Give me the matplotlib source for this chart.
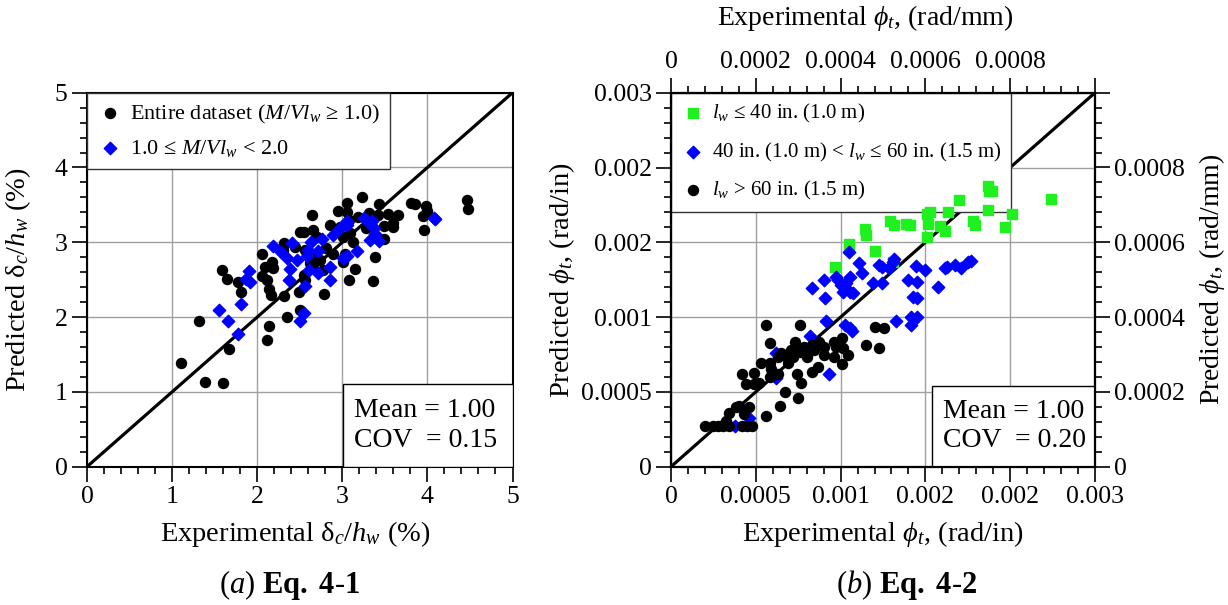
import numpy as np
import matplotlib
matplotlib.use("Agg")
import matplotlib.pyplot as plt
from matplotlib.patches import Rectangle

plt.rcParams['font.family'] = ['Liberation Serif', 'DejaVu Serif']
plt.rcParams['mathtext.fontset'] = 'custom'
plt.rcParams['mathtext.rm'] = 'Liberation Serif'
plt.rcParams['mathtext.it'] = 'Liberation Serif:italic'
plt.rcParams['mathtext.bf'] = 'Liberation Serif:bold'

# (a) drift ratio, %
drift_all_exp = [1.10, 1.39, 1.60, 1.32, 1.67, 1.59, 1.64, 1.77, 1.81, 2.06, 2.09, 2.17, 2.19, 2.06,
                 2.11, 2.14, 2.16, 2.14, 2.11, 2.31, 2.30, 2.32, 2.35, 2.49, 2.50, 2.50, 2.55, 2.56,
                 2.64, 2.66, 2.68, 2.70, 2.55, 2.56, 2.77, 2.78, 2.81, 2.86, 2.89, 2.95, 2.97, 3.01,
                 3.05, 3.05, 3.08, 3.09, 3.12, 3.15, 3.08, 3.19, 3.23, 3.28, 3.31, 3.38, 3.36, 3.42,
                 3.43, 3.49, 3.49, 3.54, 3.60, 3.66, 3.60, 3.81, 3.86, 3.95, 3.98, 3.99, 3.96, 4.47,
                 4.48, 2.62, 2.74, 2.30, 2.44, 3.01, 3.03, 2.62, 2.66]
drift_all_pred = [1.39, 1.13, 1.12, 1.95, 1.57, 2.63, 2.51, 2.47, 2.33, 2.85, 2.67, 2.74, 2.65, 2.55,
                  2.50, 2.38, 2.30, 1.88, 1.69, 2.99, 2.94, 2.28, 2.00, 2.33, 2.10, 3.14, 3.14, 2.90,
                  3.36, 3.17, 2.76, 3.07, 2.56, 2.50, 2.63, 2.31, 2.92, 3.23, 2.85, 3.42, 3.21, 2.74,
                  3.52, 3.40, 3.30, 3.13, 3.01, 2.64, 2.50, 3.34, 3.61, 3.19, 3.39, 2.80, 2.48, 3.36,
                  3.51, 3.22, 3.05, 3.38, 3.26, 3.36, 3.21, 3.53, 3.51, 3.35, 3.48, 3.42, 3.16, 3.56,
                  3.45, 2.81, 2.76, 2.90, 2.94, 3.07, 2.85, 2.72, 2.65]
drift_sub_exp = [1.55, 1.66, 1.77, 1.81, 1.90, 1.87, 1.92, 2.19, 2.28, 2.35, 2.41, 2.47, 2.39, 2.37,
                 2.56, 2.55, 2.50, 2.60, 2.63, 2.59, 2.71, 2.61, 2.71, 2.76, 2.85, 2.86, 2.89, 2.97,
                 3.05, 3.06, 3.01, 3.05, 3.17, 3.26, 3.32, 3.35, 3.37, 3.39, 3.32, 3.43, 4.09, 4.08]
drift_sub_pred = [2.09, 1.95, 1.78, 2.17, 2.62, 2.51, 2.47, 2.95, 2.87, 2.79, 2.99, 2.76, 2.64, 2.50,
                  2.41, 2.05, 1.95, 2.90, 3.01, 2.82, 2.89, 2.63, 2.59, 3.04, 2.67, 2.49, 3.10, 3.19,
                  3.23, 3.28, 2.79, 2.82, 2.89, 3.33, 3.25, 3.28, 3.19, 3.11, 3.03, 3.02, 3.31, 3.33]

# (b) curvature, rad/in x 1e-3
phi_short_exp = [1.16, 1.26, 1.26, 1.37, 1.38, 1.44, 1.55, 1.58, 1.66, 1.69, 1.81, 1.83, 1.82, 1.81,
                 1.90, 1.94, 1.96, 2.04, 2.14, 2.15, 2.24, 2.25, 2.27, 2.24, 2.36, 2.41, 2.69, 1.57]
phi_short_pred = [1.60, 1.79, 1.75, 1.91, 1.86, 1.73, 1.97, 1.94, 1.95, 1.94, 2.03, 2.04, 1.95, 1.84,
                  1.93, 1.89, 2.04, 2.14, 1.97, 1.94, 2.25, 2.21, 2.21, 2.06, 1.92, 2.03, 2.15, 1.64]
phi_mid_exp = [1.26, 1.00, 1.08, 1.09, 1.17, 1.18, 1.20, 1.22, 1.24, 1.27, 1.27, 1.29, 1.33, 1.35,
               1.43, 1.47, 1.49, 1.49, 1.54, 1.58, 1.57, 1.68, 1.73, 1.74, 1.71, 1.74, 1.80, 1.89,
               1.94, 1.95, 2.01, 2.05, 2.10, 2.12, 1.10, 1.23, 1.27, 1.28, 1.59, 1.70, 1.74, 1.70,
               0.98, 0.74, 1.12, 0.74, 0.45, 0.55]
phi_mid_pred = [1.72, 1.43, 1.50, 1.35, 1.52, 1.50, 1.46, 1.40, 1.47, 1.52, 1.40, 1.39, 1.63, 1.55,
                1.47, 1.62, 1.60, 1.47, 1.59, 1.67, 1.64, 1.50, 1.61, 1.48, 1.36, 1.35, 1.58, 1.44,
                1.59, 1.60, 1.62, 1.59, 1.64, 1.65, 1.17, 1.14, 1.11, 1.09, 1.17, 1.20, 1.20, 1.14,
                1.05, 0.91, 0.74, 0.71, 0.33, 0.39]
phi_long_exp = [0.24, 0.30, 0.33, 0.37, 0.41, 0.50, 0.54, 0.57, 0.39, 0.41, 0.46, 0.48, 0.55, 0.52,
                0.67, 0.50, 0.59, 0.53, 0.59, 0.62, 0.64, 0.70, 0.71, 0.70, 0.76, 0.77, 0.81, 0.67,
                0.70, 0.78, 0.79, 0.83, 0.85, 0.88, 0.89, 0.91, 0.90, 0.92, 0.89, 0.91, 0.94, 0.96,
                0.96, 1.00, 1.01, 1.00, 1.04, 1.05, 1.08, 1.08, 1.15, 1.15, 1.17, 1.21, 1.21, 1.22,
                1.25, 1.38, 1.44, 1.47, 1.51, 0.76, 0.86]
phi_long_pred = [0.33, 0.33, 0.33, 0.33, 0.33, 0.33, 0.33, 0.33, 0.37, 0.43, 0.48, 0.49, 0.48, 0.42,
                 0.41, 0.74, 0.75, 0.66, 0.66, 0.67, 0.83, 0.83, 0.78, 0.72, 0.74, 0.49, 0.60, 1.14,
                 0.99, 0.91, 0.90, 0.83, 0.94, 1.00, 0.96, 1.14, 0.55, 0.67, 0.74, 0.92, 0.96, 0.88,
                 0.92, 0.98, 0.94, 0.76, 0.80, 1.00, 0.96, 0.90, 1.00, 0.88, 0.96, 1.03, 0.82, 0.95,
                 0.90, 0.98, 1.12, 0.95, 1.11, 0.88, 0.88]

ticks_in = [0, 0.0006, 0.0012, 0.0018, 0.0024, 0.003]
ticklabels_in = ['0', '0.0005', '0.001', '0.002', '0.002', '0.003']
ticks_mm = [0, 0.0002, 0.0004, 0.0006, 0.0008, 0.001]
ticklabels_mm = ['0', '0.0002', '0.0004', '0.0006', '0.0008', '']

green = '#1ff01f'
blue = '#0000ff'
grid_c = '#a0a0a0'


def style_ticks(a, **kw):
    a.tick_params(which='major', direction='out', length=11, width=1.2, labelsize=18.5, pad=3, **kw)
    a.tick_params(which='minor', direction='out', length=5, width=1.2, **kw)


def stats_box(a, x0, y1, text):
    a.add_patch(Rectangle((x0, 0), 1 - x0, y1, transform=a.transAxes, fc='white',
                          ec='black', lw=1, zorder=6))
    a.text(x0 + 0.025, y1 / 2, text, transform=a.transAxes, ha='left', va='center',
           fontsize=20, zorder=7, linespacing=1.25)


def make_legend(a, fs, spacing):
    leg = a.legend(loc='upper left', borderaxespad=0, fontsize=fs, frameon=True, fancybox=False,
                   framealpha=1, handletextpad=0.3, handlelength=1.2, borderpad=0.45,
                   labelspacing=spacing)
    leg.get_frame().set_edgecolor('#333333')
    leg.get_frame().set_linewidth(1)
    leg.set_zorder(4)   # above the 1:1 line, below the markers
    return leg


fig = plt.figure(figsize=(12.28, 6.05), dpi=100)

# ---------- (a) ----------
ax1 = fig.add_axes([87 / 1228, 138.3 / 605, 425.5 / 1228, 374 / 605])
ax1.set_xlim(0, 5)
ax1.set_ylim(0, 5)
ax1.set_xticks(range(6))
ax1.set_yticks(range(6))
ax1.set_xticks(np.arange(0, 5.01, 0.2), minor=True)
ax1.set_yticks(np.arange(0, 5.01, 0.2), minor=True)
style_ticks(ax1)
ax1.grid(True, which='major', color=grid_c, lw=1)
ax1.set_axisbelow(True)
for s in ax1.spines.values():
    s.set_linewidth(1.5)
ax1.plot([0, 5], [0, 5], color='black', lw=2.3, zorder=3)
ax1.scatter(drift_all_exp, drift_all_pred, s=52, color='black', zorder=5,
            label=r'Entire dataset ($M/Vl_w$ ≥ 1.0)')
ax1.scatter(drift_sub_exp, drift_sub_pred, s=40, marker='D', color=blue, zorder=5.5,
            label=r'1.0 ≤ $M/Vl_w$ < 2.0')
make_legend(ax1, 16, 0.55)
stats_box(ax1, 0.602, 0.221, 'Mean = 1.00\nCOV  = 0.15')
ax1.set_xlabel(r'Experimental δ$_c$/$h_w$ (%)', fontsize=20.5)
ax1.xaxis.set_label_coords(0.49, -0.18)
ax1.xaxis.label.set_va('center')
ax1.set_ylabel(r'Predicted δ$_c$/$h_w$ (%)', fontsize=20.5)
ax1.yaxis.set_label_coords(-0.162, 0.5)
ax1.yaxis.label.set_va('center')

# ---------- (b) ----------
ax2 = fig.add_axes([671 / 1228, 138.3 / 605, 424 / 1228, 374 / 605])
ax2.set_xlim(0, 0.003)
ax2.set_ylim(0, 0.003)
ax2.set_xticks(ticks_in)
ax2.set_xticklabels(ticklabels_in)
ax2.set_yticks(ticks_in)
ax2.set_yticklabels(ticklabels_in)
ax2.set_xticks(np.linspace(0, 0.003, 26), minor=True)
ax2.set_yticks(np.linspace(0, 0.003, 26), minor=True)
style_ticks(ax2)
ax2.grid(True, which='major', color=grid_c, lw=1)
ax2.set_axisbelow(True)
for s in ax2.spines.values():
    s.set_linewidth(1.5)
ax2.plot([0, 0.003], [0, 0.003], color='black', lw=2.3, zorder=3)
ax2.scatter(np.array(phi_short_exp) * 1e-3, np.array(phi_short_pred) * 1e-3, s=45, marker='s',
            color=green, zorder=5, label=r'$l_w$ ≤ 40 in. (1.0 m)')
ax2.scatter(np.array(phi_mid_exp) * 1e-3, np.array(phi_mid_pred) * 1e-3, s=40, marker='D',
            color=blue, zorder=5, label=r'40 in. (1.0 m) < $l_w$ ≤ 60 in. (1.5 m)')
ax2.scatter(np.array(phi_long_exp) * 1e-3, np.array(phi_long_pred) * 1e-3, s=52,
            color='black', zorder=5, label=r'$l_w$ > 60 in. (1.5 m)')
make_legend(ax2, 15, 0.75)
stats_box(ax2, 0.616, 0.217, 'Mean = 1.00\nCOV  = 0.20')
ax2.set_xlabel(r'Experimental $\phi_t$, (rad/in)', fontsize=20.5)
ax2.xaxis.set_label_coords(0.5, -0.18)
ax2.xaxis.label.set_va('center')
ax2.set_ylabel(r'Predicted $\phi_t$, (rad/in)', fontsize=20.5)
ax2.yaxis.set_label_coords(-0.258, 0.5)
ax2.yaxis.label.set_va('center')

# secondary SI axes
ax_top = ax2.twiny()
ax_top.set_xlim(0, 0.001)
ax_top.set_xticks(ticks_mm)
ax_top.set_xticklabels(ticklabels_mm)
ax_top.set_xticks(np.linspace(0, 0.001, 26), minor=True)
style_ticks(ax_top)
ax_top.set_xlabel(r'Experimental $\phi_t$, (rad/mm)', fontsize=20)
ax_top.xaxis.set_label_coords(0.458, 1.2)
ax_top.xaxis.label.set_va('center')

ax_right = ax2.twinx()
ax_right.set_ylim(0, 0.001)
ax_right.set_yticks(ticks_mm)
ax_right.set_yticklabels(ticklabels_mm)
ax_right.set_yticks(np.linspace(0, 0.001, 26), minor=True)
style_ticks(ax_right)
ax_right.set_ylabel(r'Predicted $\phi_t$, (rad/mm)', fontsize=20)
ax_right.yaxis.set_label_coords(1.275, 0.5)
ax_right.yaxis.label.set_va('center')
for a in (ax_top, ax_right):
    for s in a.spines.values():
        s.set_linewidth(1.5)

fig.text(290 / 1228, 1 - 585 / 605, r'($a$) $\mathbf{Eq.\ 4\text{-}1}$', ha='center', va='center', fontsize=22)
fig.text(907 / 1228, 1 - 585 / 605, r'($b$) $\mathbf{Eq.\ 4\text{-}2}$', ha='center', va='center', fontsize=22)

fig.savefig('out.png', dpi=100)
